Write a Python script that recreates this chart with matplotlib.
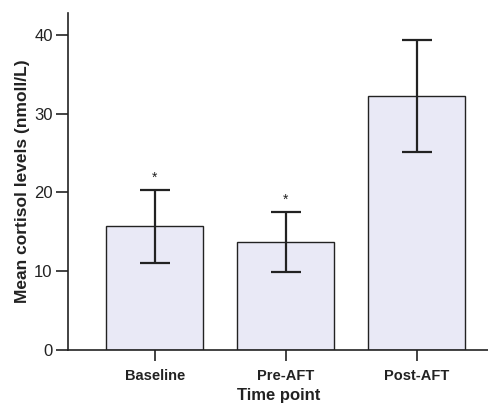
import matplotlib
matplotlib.use("Agg")
import matplotlib.pyplot as plt

categories = ["Baseline", "Pre-AFT", "Post-AFT"]
means = [15.7, 13.7, 32.3]
errors = [4.65, 3.85, 7.1]
significant = [True, True, False]
yticks = [0, 10, 20, 30, 40]

plt.rcParams['font.family'] = ['Liberation Sans', 'DejaVu Sans']

fig = plt.figure(figsize=(4.89, 4.05), dpi=100)
ax = fig.add_axes([0.139, 0.136, 0.861, 0.832])

x = list(range(len(categories)))
ax.bar(x, means, width=0.74, color="#e9e9f6", edgecolor="#222222", linewidth=1.0, zorder=2)
ax.errorbar(x, means, yerr=errors, fmt="none", ecolor="#222222", elinewidth=1.6,
            capsize=11, capthick=1.6, zorder=3)
for xi, m, e, s in zip(x, means, errors, significant):
    if s:
        ax.text(xi, m + e + 0.6, "*", ha="center", va="bottom", fontsize=10, color="#222222")

ax.set_xlim(-0.664, 2.55)
ax.set_ylim(0, 42.8)
ax.set_yticks(yticks)
ax.set_xticks(x)
ax.set_xticklabels(categories, fontweight="bold", fontsize=10.5)
ax.tick_params(axis="y", labelsize=12, length=9, width=1.2, direction="out", pad=2, colors="#222222")
ax.tick_params(axis="x", length=8, width=1.2, direction="out", pad=6, colors="#222222")
for s in ["top", "right"]:
    ax.spines[s].set_visible(False)
for s in ["left", "bottom"]:
    ax.spines[s].set_linewidth(1.2)
    ax.spines[s].set_color("#222222")
ax.set_ylabel("Mean cortisol levels (nmoll/L)", fontweight="bold", fontsize=12.5, labelpad=3, color="#222222")
ax.set_xlabel("Time point", fontweight="bold", fontsize=12, labelpad=3, color="#222222")

fig.savefig("out.png", dpi=100)
